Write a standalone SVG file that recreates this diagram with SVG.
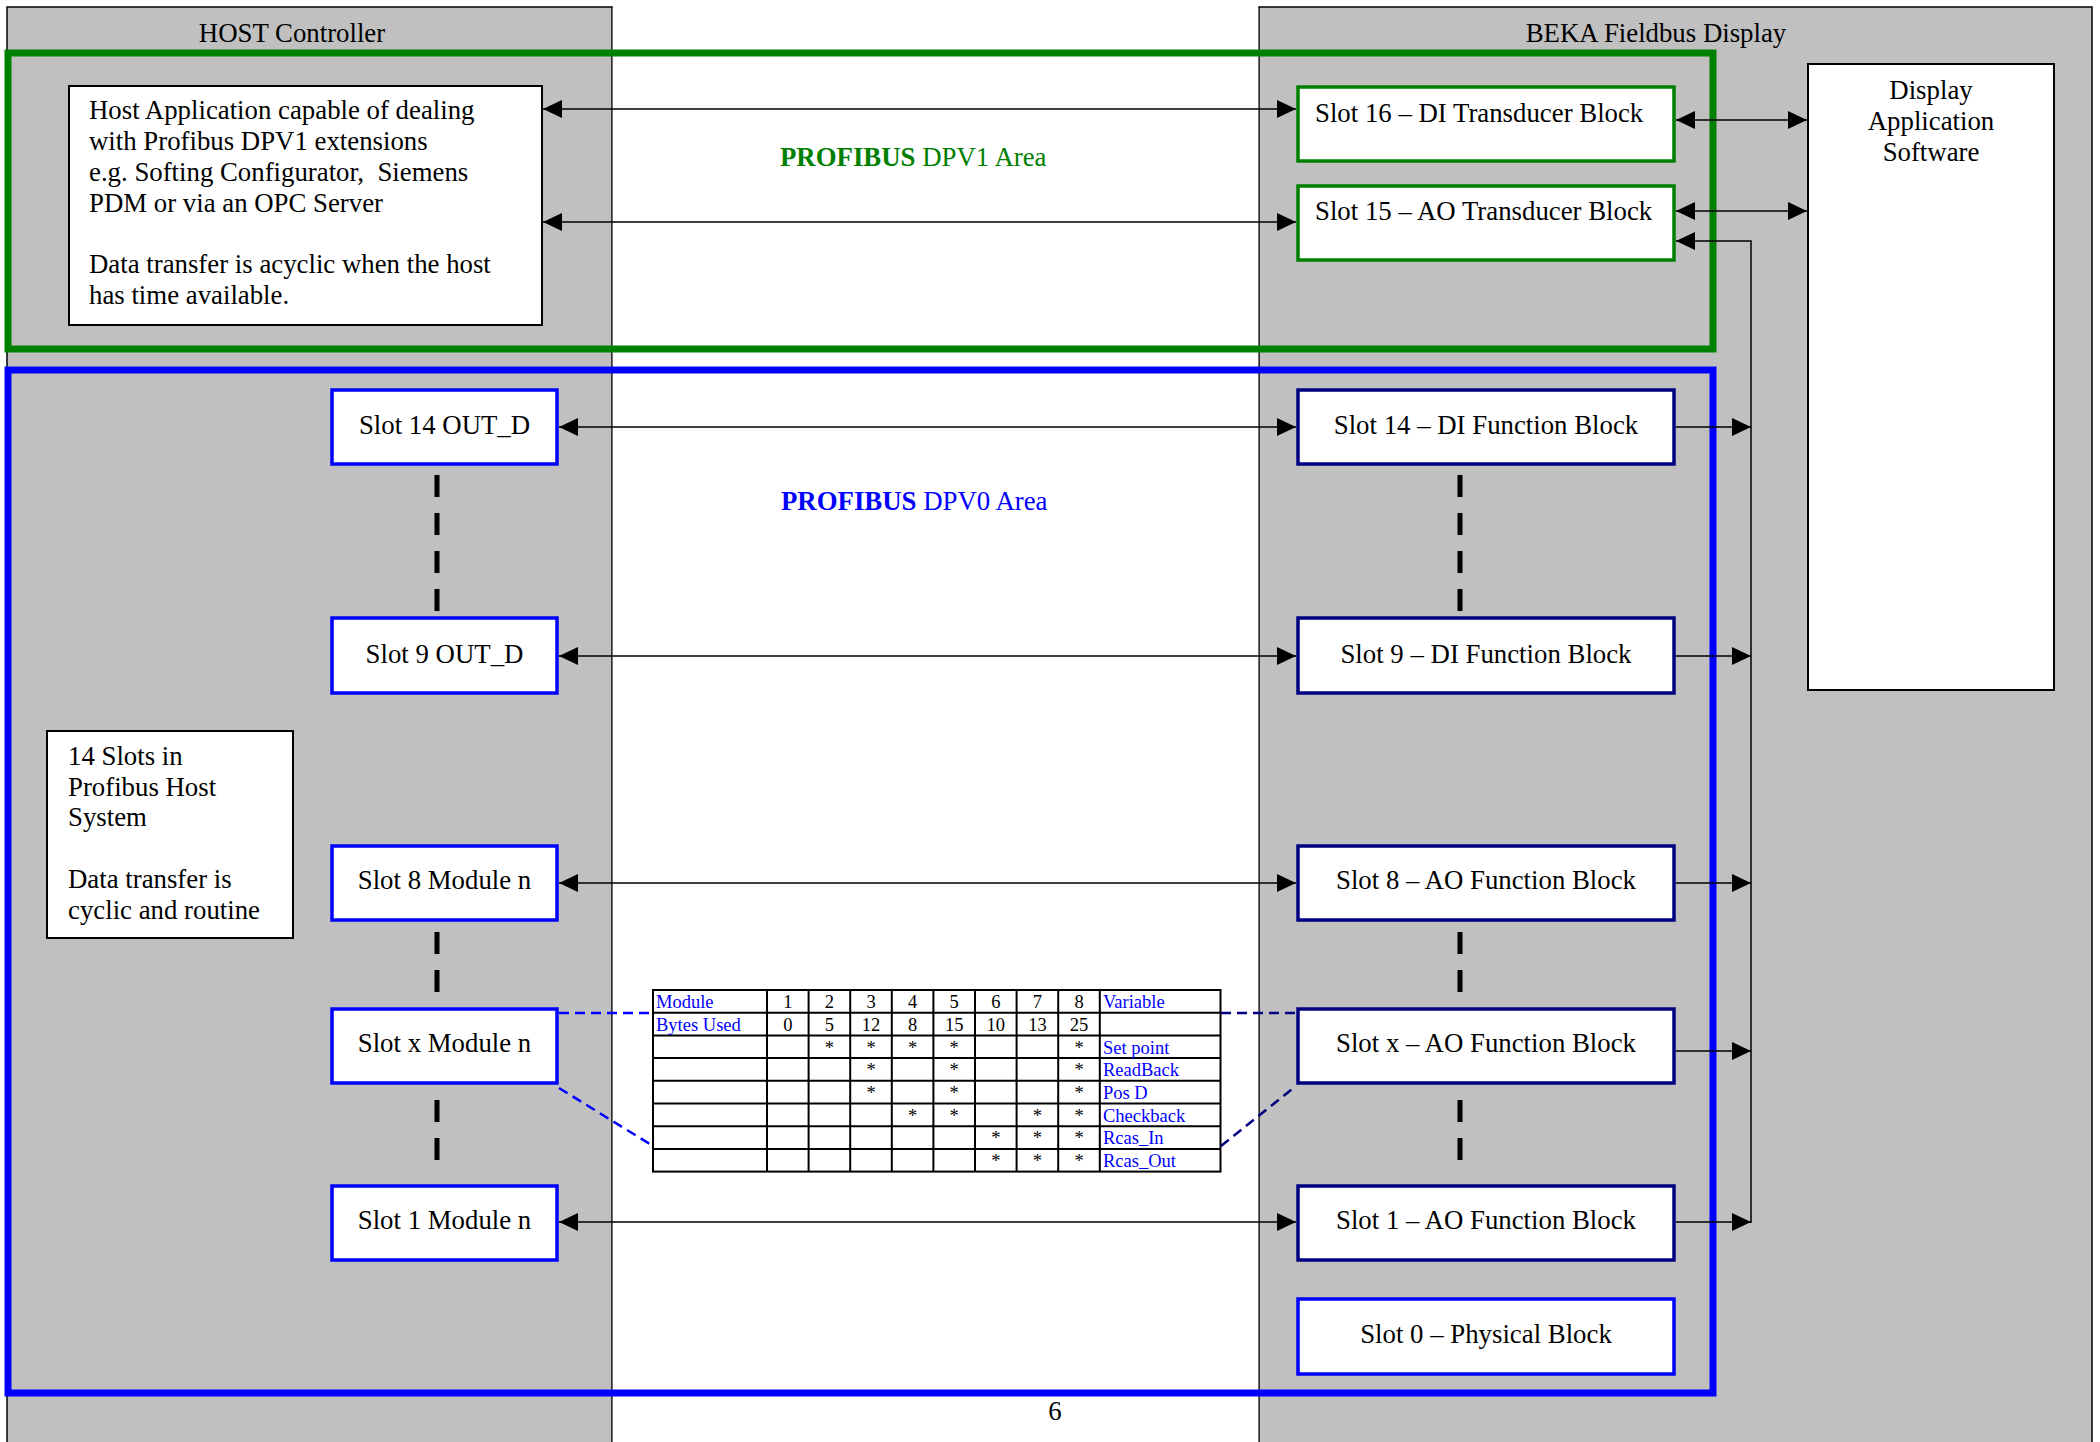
<svg xmlns="http://www.w3.org/2000/svg" width="2100" height="1442" viewBox="0 0 2100 1442">
<defs>
<style>
.t{font-family:"Liberation Serif","Times New Roman",serif;font-size:26.8px;fill:#000}
.c{text-anchor:middle}
.panel{fill:#c0c0c0;stroke:#000;stroke-width:1.5}
.wbox{fill:#fff;stroke:#000;stroke-width:2}
.gbox{fill:#fff;stroke:#008000;stroke-width:3.5}
.bbox{fill:#fff;stroke:#0000ff;stroke-width:3.5}
.nbox{fill:#fff;stroke:#000080;stroke-width:3.5}
.conn{stroke:#000;stroke-width:1.5;fill:none}
.vdash{stroke:#000;stroke-width:5;stroke-dasharray:22 16;fill:none}
.bdash{stroke:#0000ff;stroke-width:2.5;stroke-dasharray:10 6;fill:none}
.ndash{stroke:#000080;stroke-width:2.5;stroke-dasharray:10 6;fill:none}
.tb{font-family:"Liberation Serif","Times New Roman",serif;font-size:18.5px;fill:#000;text-anchor:middle}
.tbl{font-family:"Liberation Serif","Times New Roman",serif;font-size:18.5px;fill:#0000ff}
.grid{stroke:#000;stroke-width:2;fill:none}
</style>
<marker id="ah" viewBox="0 0 19 18" refX="19" refY="9" markerWidth="19" markerHeight="18" markerUnits="userSpaceOnUse" orient="auto-start-reverse">
<path d="M0,0 L19,9 L0,18 z" fill="#000"/>
</marker>
</defs>
<rect width="2100" height="1442" fill="#fff"/>

<g id="host-panel">
<rect class="panel" x="7" y="7" width="605" height="1445"/>
<text class="t c" x="292" y="42">HOST Controller</text>
</g>
<g id="beka-panel">
<rect class="panel" x="1259" y="7" width="833" height="1445"/>
<text class="t c" x="1656" y="42">BEKA Fieldbus Display</text>
</g>
<rect x="612.75" y="8" width="645.5" height="1440" fill="#fff"/>

<g id="dpv1-area">
<rect x="8" y="53" width="1705" height="296" fill="none" stroke="#008000" stroke-width="7"/>
<text class="t" x="780" y="166" style="fill:#008000"><tspan font-weight="bold">PROFIBUS</tspan> DPV1 Area</text>
</g>
<g id="dpv0-area">
<rect x="8" y="370" width="1705" height="1023" fill="none" stroke="#0000ff" stroke-width="7"/>
<text class="t" x="781" y="510" style="fill:#0000ff"><tspan font-weight="bold">PROFIBUS</tspan> DPV0 Area</text>
</g>

<g id="host-application">
<rect class="wbox" x="69" y="86" width="473" height="239"/>
<text class="t" x="89" y="119">Host Application capable of dealing</text>
<text class="t" x="89" y="150">with Profibus DPV1 extensions</text>
<text class="t" x="89" y="181">e.g. Softing Configurator, &#160;Siemens</text>
<text class="t" x="89" y="212">PDM or via an OPC Server</text>
<text class="t" x="89" y="273">Data transfer is acyclic when the host</text>
<text class="t" x="89" y="304">has time available.</text>
</g>

<g id="display-software">
<rect class="wbox" x="1808" y="64" width="246" height="626"/>
<text class="t c" x="1931" y="99">Display</text>
<text class="t c" x="1931" y="130">Application</text>
<text class="t c" x="1931" y="161">Software</text>
</g>

<g id="host-slots-note">
<rect class="wbox" x="47" y="731" width="246" height="207"/>
<text class="t" x="68" y="765">14 Slots in</text>
<text class="t" x="68" y="796">Profibus Host</text>
<text class="t" x="68" y="826">System</text>
<text class="t" x="68" y="888">Data transfer is</text>
<text class="t" x="68" y="919">cyclic and routine</text>
</g>

<g id="slot16-tb"><rect class="gbox" x="1298" y="87" width="376" height="74"/><text class="t" x="1315" y="122">Slot 16 – DI Transducer Block</text></g>
<g id="slot15-tb"><rect class="gbox" x="1298" y="186" width="376" height="74"/><text class="t" x="1315" y="220">Slot 15 – AO Transducer Block</text></g>

<g id="slot14-out"><rect class="bbox" x="332" y="390" width="225" height="74"/><text class="t c" x="444.5" y="434">Slot 14 OUT_D</text></g>
<g id="slot9-out"><rect class="bbox" x="332" y="618" width="225" height="75"/><text class="t c" x="444.5" y="663">Slot 9 OUT_D</text></g>
<g id="slot8-mod"><rect class="bbox" x="332" y="846" width="225" height="74"/><text class="t c" x="444.5" y="889">Slot 8 Module n</text></g>
<g id="slotx-mod"><rect class="bbox" x="332" y="1009" width="225" height="74"/><text class="t c" x="444.5" y="1052">Slot x Module n</text></g>
<g id="slot1-mod"><rect class="bbox" x="332" y="1186" width="225" height="74"/><text class="t c" x="444.5" y="1229">Slot 1 Module n</text></g>

<g id="slot14-fb"><rect class="nbox" x="1298" y="390" width="376" height="74"/><text class="t c" x="1486" y="434">Slot 14 – DI Function Block</text></g>
<g id="slot9-fb"><rect class="nbox" x="1298" y="618" width="376" height="75"/><text class="t c" x="1486" y="663">Slot 9 – DI Function Block</text></g>
<g id="slot8-fb"><rect class="nbox" x="1298" y="846" width="376" height="74"/><text class="t c" x="1486" y="889">Slot 8 – AO Function Block</text></g>
<g id="slotx-fb"><rect class="nbox" x="1298" y="1009" width="376" height="74"/><text class="t c" x="1486" y="1052">Slot x – AO Function Block</text></g>
<g id="slot1-fb"><rect class="nbox" x="1298" y="1186" width="376" height="74"/><text class="t c" x="1486" y="1229">Slot 1 – AO Function Block</text></g>
<g id="slot0-pb"><rect class="bbox" x="1298" y="1299" width="376" height="75"/><text class="t c" x="1486" y="1343">Slot 0 – Physical Block</text></g>

<g id="module-table">
<rect x="653" y="990" width="567.5" height="181.6" fill="#fff"/>
<g class="grid">
<rect x="653" y="990" width="567.5" height="181.6"/>
<path d="M653,1012.7H1220.5M653,1035.4H1220.5M653,1058.1H1220.5M653,1080.8H1220.5M653,1103.5H1220.5M653,1126.2H1220.5M653,1148.9H1220.5"/>
<path d="M767,990V1171.6M808.6,990V1171.6M850.2,990V1171.6M891.8,990V1171.6M933.4,990V1171.6M975,990V1171.6M1016.6,990V1171.6M1058.2,990V1171.6M1099.8,990V1171.6"/>
</g>
<text class="tbl" x="656" y="1008">Module</text>
<text class="tbl" x="656" y="1031">Bytes Used</text>
<text class="tbl" x="1103" y="1008">Variable</text>
<text class="tbl" x="1103" y="1054">Set point</text>
<text class="tbl" x="1103" y="1076">ReadBack</text>
<text class="tbl" x="1103" y="1099">Pos D</text>
<text class="tbl" x="1103" y="1122">Checkback</text>
<text class="tbl" x="1103" y="1144">Rcas_In</text>
<text class="tbl" x="1103" y="1167">Rcas_Out</text>
<g>
<text class="tb" x="787.8" y="1008">1</text><text class="tb" x="829.4" y="1008">2</text><text class="tb" x="871" y="1008">3</text><text class="tb" x="912.6" y="1008">4</text><text class="tb" x="954.2" y="1008">5</text><text class="tb" x="995.8" y="1008">6</text><text class="tb" x="1037.4" y="1008">7</text><text class="tb" x="1079" y="1008">8</text>
<text class="tb" x="787.8" y="1031">0</text><text class="tb" x="829.4" y="1031">5</text><text class="tb" x="871" y="1031">12</text><text class="tb" x="912.6" y="1031">8</text><text class="tb" x="954.2" y="1031">15</text><text class="tb" x="995.8" y="1031">10</text><text class="tb" x="1037.4" y="1031">13</text><text class="tb" x="1079" y="1031">25</text>
<text class="tb" x="829.4" y="1054">*</text><text class="tb" x="871" y="1054">*</text><text class="tb" x="912.6" y="1054">*</text><text class="tb" x="954.2" y="1054">*</text><text class="tb" x="1079" y="1054">*</text>
<text class="tb" x="871" y="1076">*</text><text class="tb" x="954.2" y="1076">*</text><text class="tb" x="1079" y="1076">*</text>
<text class="tb" x="871" y="1099">*</text><text class="tb" x="954.2" y="1099">*</text><text class="tb" x="1079" y="1099">*</text>
<text class="tb" x="912.6" y="1122">*</text><text class="tb" x="954.2" y="1122">*</text><text class="tb" x="1037.4" y="1122">*</text><text class="tb" x="1079" y="1122">*</text>
<text class="tb" x="995.8" y="1144">*</text><text class="tb" x="1037.4" y="1144">*</text><text class="tb" x="1079" y="1144">*</text>
<text class="tb" x="995.8" y="1167">*</text><text class="tb" x="1037.4" y="1167">*</text><text class="tb" x="1079" y="1167">*</text>
</g>
</g>

<g id="connectors">
<line class="conn" x1="543" y1="109" x2="1296" y2="109" marker-start="url(#ah)" marker-end="url(#ah)"/>
<line class="conn" x1="543" y1="222" x2="1296" y2="222" marker-start="url(#ah)" marker-end="url(#ah)"/>
<line class="conn" x1="1676" y1="120" x2="1807" y2="120" marker-start="url(#ah)" marker-end="url(#ah)"/>
<line class="conn" x1="1676" y1="211" x2="1807" y2="211" marker-start="url(#ah)" marker-end="url(#ah)"/>
<polyline class="conn" points="1751,1223 1751,241 1676,241" marker-end="url(#ah)"/>
<line class="conn" x1="559" y1="427" x2="1296" y2="427" marker-start="url(#ah)" marker-end="url(#ah)"/>
<line class="conn" x1="559" y1="656" x2="1296" y2="656" marker-start="url(#ah)" marker-end="url(#ah)"/>
<line class="conn" x1="559" y1="883" x2="1296" y2="883" marker-start="url(#ah)" marker-end="url(#ah)"/>
<line class="conn" x1="559" y1="1222" x2="1296" y2="1222" marker-start="url(#ah)" marker-end="url(#ah)"/>
<line class="conn" x1="1676" y1="427" x2="1751" y2="427" marker-end="url(#ah)"/>
<line class="conn" x1="1676" y1="656" x2="1751" y2="656" marker-end="url(#ah)"/>
<line class="conn" x1="1676" y1="883" x2="1751" y2="883" marker-end="url(#ah)"/>
<line class="conn" x1="1676" y1="1051" x2="1751" y2="1051" marker-end="url(#ah)"/>
<line class="conn" x1="1676" y1="1222" x2="1751" y2="1222" marker-end="url(#ah)"/>
<line class="vdash" x1="437" y1="475" x2="437" y2="612"/>
<line class="vdash" x1="437" y1="932" x2="437" y2="994"/>
<line class="vdash" x1="437" y1="1100" x2="437" y2="1162"/>
<line class="vdash" x1="1460" y1="475" x2="1460" y2="612"/>
<line class="vdash" x1="1460" y1="932" x2="1460" y2="994"/>
<line class="vdash" x1="1460" y1="1100" x2="1460" y2="1162"/>
<line class="bdash" x1="559" y1="1013" x2="653" y2="1013"/>
<line class="bdash" x1="559" y1="1088" x2="653" y2="1146"/>
<line class="ndash" x1="1221" y1="1013" x2="1296" y2="1013"/>
<line class="ndash" x1="1221" y1="1146" x2="1296" y2="1086"/>
</g>

<text class="t c" x="1055" y="1420">6</text>
</svg>
